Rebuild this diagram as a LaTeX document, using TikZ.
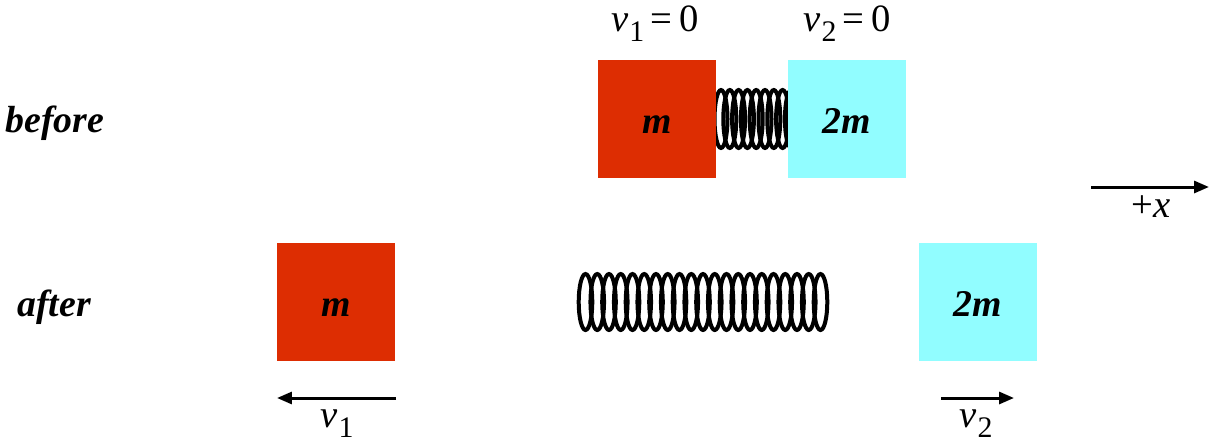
\documentclass[tikz,border=0pt]{standalone}
\usepackage{fontspec}
\setmainfont{Liberation Serif}
\usetikzlibrary{arrows.meta}
\definecolor{massred}{RGB}{221,45,2}
\definecolor{masscyan}{RGB}{145,253,255}
\newcommand{\vsub}[1]{\textit{v}\kern0.02em\raisebox{-0.28em}{\fontsize{17pt}{17pt}\selectfont #1}}
\begin{document}
\begin{tikzpicture}[x=0.02cm,y=-0.02cm,
  blockbox/.style={minimum size=2.36cm,inner sep=0pt},
  masstext/.style={inner sep=0pt,anchor=base,font=\fontsize{21.5pt}{21.5pt}\selectfont\bfseries\itshape},
  stagelabel/.style={inner sep=0pt,anchor=base west,font=\fontsize{21.5pt}{21.5pt}\selectfont\bfseries\itshape},
  vlabel/.style={inner sep=0pt,anchor=base,font=\fontsize{22pt}{22pt}\selectfont},
  coil/.style={line width=0.08cm,black},
  velarrow/.style={line width=0.06cm,-{Triangle[length=0.3cm,width=0.24cm]}}]
\useasboundingbox (0,0) rectangle (1211,443);
% compressed spring (before)
\foreach \i in {0,...,8}{
  \draw[coil] (721+\i*8.8,119) ellipse [x radius=6.5,y radius=29];
}
% stretched spring (after)
\foreach \i in {0,...,20}{
  \draw[coil] (585.5+\i*11.75,302) ellipse [x radius=6.8,y radius=28];
}
% blocks
\node[blockbox,fill=massred] (m1b) at (657,119) {};
\node[blockbox,fill=masscyan] (m2b) at (847,119) {};
\node[blockbox,fill=massred] (m1a) at (336,302) {};
\node[blockbox,fill=masscyan] (m2a) at (978,302) {};
\node[masstext] (m1bt) at (657,133) {m};
\node[masstext] (m2bt) at (847,133) {2m};
\node[masstext] (m1at) at (336,316) {m};
\node[masstext] (m2at) at (978,316) {2m};
% stage labels
\node[stagelabel] (before) at (5,132) {before};
\node[stagelabel] (after) at (17,316) {after};
% velocity labels (before)
\node[vlabel] (v1zero) at (655,31) {\vsub{1}\,=\,0};
\node[vlabel] (v2zero) at (847,31) {\vsub{2}\,=\,0};
% +x direction
\coordinate (xs) at (1091,187);
\coordinate (xe) at (1209,187);
\draw[velarrow] (xs) -- (xe);
\node[vlabel] (xlab) at (1151,217) {+\textit{x}};
% velocity arrows (after)
\coordinate (v1s) at (396,398);
\coordinate (v1e) at (277,398);
\draw[velarrow] (v1s) -- (v1e);
\node[vlabel] (v1lab) at (337,427) {\vsub{1}};
\coordinate (v2s) at (941,398);
\coordinate (v2e) at (1014,398);
\draw[velarrow] (v2s) -- (v2e);
\node[vlabel] (v2lab) at (976,427) {\vsub{2}};
\end{tikzpicture}
\end{document}
